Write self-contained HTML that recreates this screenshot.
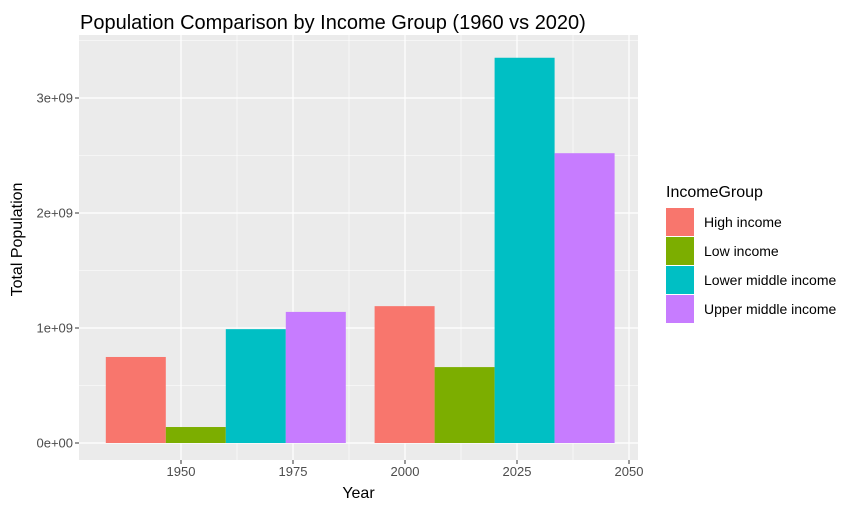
<!DOCTYPE html>
<html><head><meta charset="utf-8"><style>
body{margin:0;background:#fff;font-family:"Liberation Sans",sans-serif}
</style></head><body>
<svg id="c" width="862" height="518" xmlns="http://www.w3.org/2000/svg"></svg>
<script>
const groups=["High income","Low income","Lower middle income","Upper middle income"];
const colors=["#F8766D","#7CAE00","#00BFC4","#C77CFF"];
const years=[1960,2020];
const values1960=[0.748e9,0.139e9,0.99e9,1.14e9];
const values2020=[1.19e9,0.66e9,3.35e9,2.52e9];
const xTicks=[1950,1975,2000,2025,2050];
const yTicks=[0,1e9,2e9,3e9];
const yTickLabels=["0e+00","1e+09","2e+09","3e+09"];
const ns="http://www.w3.org/2000/svg";
const svg=document.getElementById('c');
const L=79,R=638,T=35,B=460;
const x=v=>181+(v-1950)*4.48;
const y=v=>443-v/1e9*115;
function el(t,a,p){const e=document.createElementNS(ns,t);for(const k in a)e.setAttribute(k,a[k]);(p||svg).appendChild(e);return e;}
const bg=el('rect',{x:L,y:T,width:R-L,height:B-T,fill:'#EBEBEB'});


for(let i=0;i<xTicks.length-1;i++){const g=el('line',{x1:x((xTicks[i]+xTicks[i+1])/2),x2:x((xTicks[i]+xTicks[i+1])/2),y1:T,y2:B,stroke:'#fff','stroke-width':0.6});}
for(let i=0;i<yTicks.length-1;i++){const yy=y((yTicks[i]+yTicks[i+1])/2);const g=el('line',{x1:L,x2:R,y1:yy,y2:yy,stroke:'#fff','stroke-width':0.6});}
{const yy=y(3.5e9);if(yy>T){const g=el('line',{x1:L,x2:R,y1:yy,y2:yy,stroke:'#fff','stroke-width':0.6});}}
xTicks.forEach(v=>{const g=el('line',{x1:x(v),x2:x(v),y1:T,y2:B,stroke:'#fff','stroke-width':1.2});
const tk=el('line',{x1:x(v),x2:x(v),y1:B,y2:B+4,stroke:'#333'});
const t=el('text',{x:x(v),y:B+16,'text-anchor':'middle','font-size':13,fill:'#4D4D4D'});t.textContent=v;});
yTicks.forEach((v,i)=>{const g=el('line',{x1:L,x2:R,y1:y(v),y2:y(v),stroke:'#fff','stroke-width':1.2});
const tk=el('line',{x1:L-4,x2:L,y1:y(v),y2:y(v),stroke:'#333'});
const t=el('text',{x:L-6,y:y(v)+4.5,'text-anchor':'end','font-size':13,fill:'#4D4D4D'});t.textContent=yTickLabels[i];});
const bw=60/4.48;
[values1960,values2020].forEach((vals,yi)=>{vals.forEach((v,gi)=>{const x0=x(years[yi]-2*bw+gi*bw);const r=el('rect',{x:x0,y:y(v),width:bw*4.48,height:y(0)-y(v),fill:colors[gi]});});});
const tt=el('text',{x:80,y:29,'font-size':20,fill:'#000'});tt.textContent="Population Comparison by Income Group (1960 vs 2020)";
const xt=el('text',{x:(L+R)/2,y:498,'text-anchor':'middle','font-size':16});xt.textContent="Year";
const yt=el('text',{x:0,y:0,'text-anchor':'middle','font-size':16,transform:`translate(22,${(T+B)/2-8}) rotate(-90)`});yt.textContent="Total Population";
const lt=el('text',{x:666,y:197,'font-size':16});lt.textContent="IncomeGroup";
groups.forEach((g,i)=>{const yy=208+i*29;const k=el('rect',{x:666,y:yy,width:28,height:28,fill:colors[i]});
const t=el('text',{x:704,y:yy+19,'font-size':14});t.textContent=g;});
</script></body></html>
